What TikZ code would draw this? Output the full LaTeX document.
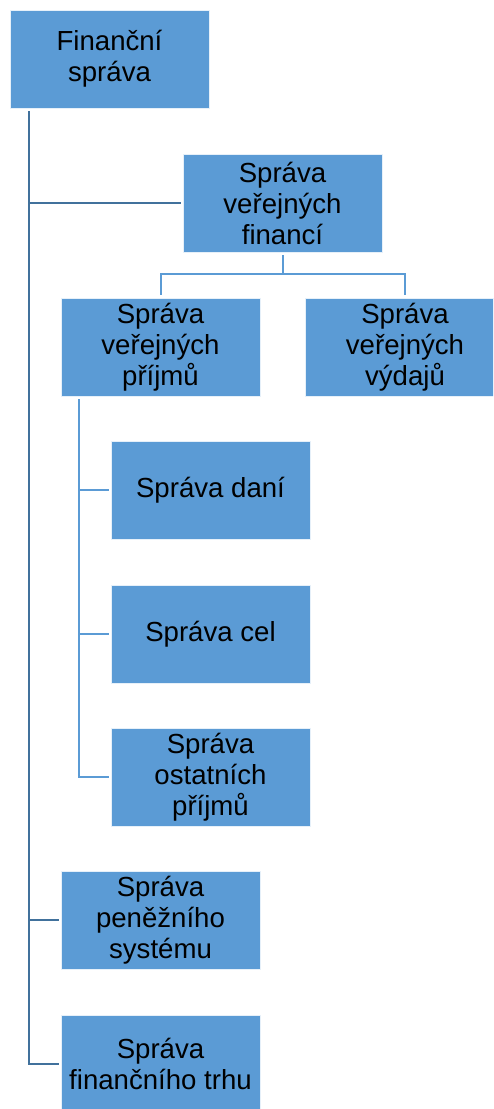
\documentclass[tikz,border=0pt]{standalone}
\usepackage{fontspec}
\setmainfont{Liberation Sans}
\definecolor{boxblue}{RGB}{91,155,213}
\definecolor{spineblue}{RGB}{65,113,156}
\tikzset{
  orgbox/.style={rectangle, fill=boxblue, draw=white!85!boxblue, line width=0.8pt,
    minimum width=199pt, minimum height=98pt, inner sep=3pt, align=center,
    font=\fontsize{27.6}{31}\selectfont},
  spine/.style={draw=spineblue, line width=2pt},
  branch/.style={draw=boxblue, line width=2pt}
}
\begin{document}
\begin{tikzpicture}[x=1pt,y=1pt]
  \useasboundingbox (0,0) rectangle (493,-1109);
  \clip (0,0) rectangle (493,-1109);
  % boxes
  \node[orgbox] (fin) at (109.5,-59) {Finanční\\správa};
  \node[orgbox] (svf) at (282.5,-203) {Správa\\veřejných\\financí};
  \node[orgbox] (svp) at (160.5,-347) {Správa\\veřejných\\příjmů};
  \node[orgbox] (svv) at (405,-347) {Správa\\veřejných\\výdajů};
  \node[orgbox] (dane) at (210.5,-490) {Správa daní};
  \node[orgbox] (cel) at (210.5,-634) {Správa cel};
  \node[orgbox] (ostat) at (210.5,-777) {Správa\\ostatních\\příjmů};
  \node[orgbox] (pen) at (160.5,-920) {Správa\\peněžního\\systému};
  \node[orgbox] (trh) at (160.5,-1064) {Správa\\finančního trhu};
  % main spine
  \coordinate (ftop) at (29,-111);
  \draw[spine] (ftop) |- ([xshift=-2pt]trh.west);
  \draw[spine] (ftop |- svf.west) -- ([xshift=-2pt]svf.west);
  \draw[spine] (ftop |- pen.west) -- ([xshift=-2pt]pen.west);
  % public finance fork
  \draw[branch] ([yshift=-3pt]svf.south) -- ++(0,-19) coordinate (fork) -| ([yshift=3pt]svp.north);
  \draw[branch] (fork) -| ([yshift=3pt]svv.north);
  % revenue sub-tree
  \coordinate (ptop) at (79,-399);
  \draw[branch] (ptop) |- ([xshift=-2pt]ostat.west);
  \draw[branch] (ptop |- dane.west) -- ([xshift=-2pt]dane.west);
  \draw[branch] (ptop |- cel.west) -- ([xshift=-2pt]cel.west);
\end{tikzpicture}
\end{document}
